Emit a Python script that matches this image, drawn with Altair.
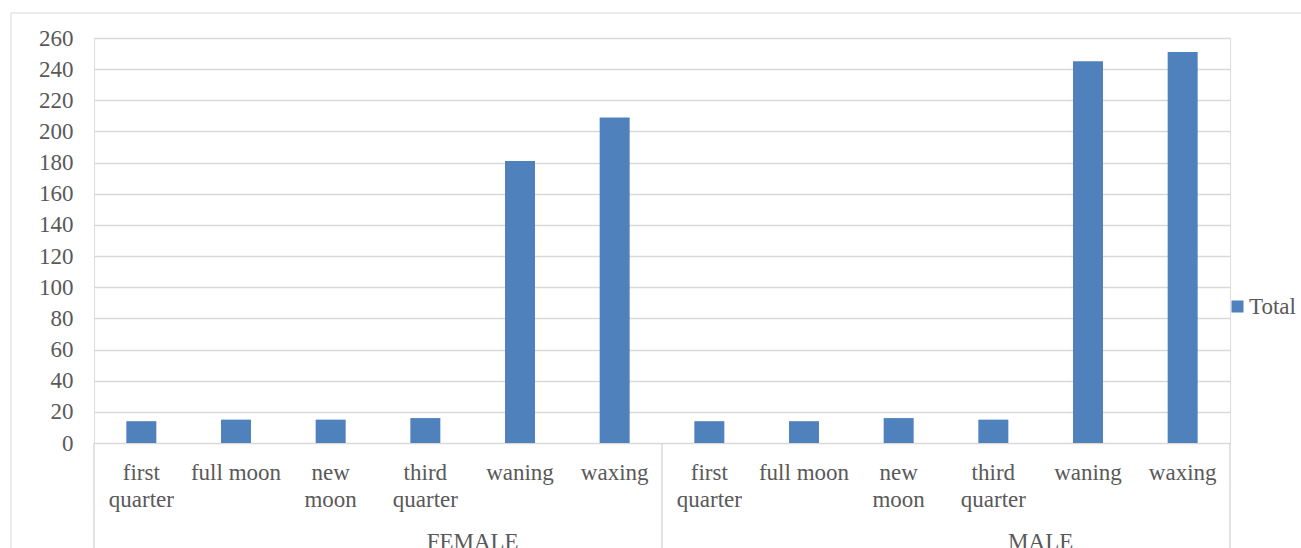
import altair as alt
import pandas as pd

sexes = ["FEMALE", "MALE"]
phases = ["first quarter", "full moon", "new moon", "third quarter", "waning", "waxing"]
phase_labels = ["first\nquarter", "full moon", "new\nmoon", "third\nquarter", "waning", "waxing"]
female = [14, 15, 15, 16, 181, 209]
male = [14, 14, 16, 15, 245, 251]
y_ticks = list(range(0, 261, 20))

FONT = "Liberation Serif"
TXT = "#595959"
GRID = "#d9d9d9"
BLUE = "#4f81bd"

W, H = 1136, 405

rows = []
for sex, vals in zip(sexes, [female, male]):
    for ph, lab, v in zip(phases, phase_labels, vals):
        rows.append({"key": f"{sex}|{ph}", "sex": sex, "phase": lab, "value": v, "series": "Total"})
df = pd.DataFrame(rows)
keys = list(df["key"])

xscale = alt.Scale(domain=keys, paddingInner=0, paddingOuter=0)

frame = alt.Chart(pd.DataFrame({"a": [0]})).mark_rect(
    fill="transparent", stroke=GRID, strokeWidth=1
).encode(
    x=alt.value(-83), x2=alt.value(W + 80), y=alt.value(-25), y2=alt.value(H + 120)
)

bars = alt.Chart(df).mark_bar(size=30, color=BLUE).encode(
    x=alt.X("key:N", sort=keys, scale=xscale,
            axis=alt.Axis(labels=False, ticks=False, domain=True, domainColor=GRID,
                          domainWidth=1.5, grid=False, title=None)),
    y=alt.Y("value:Q", scale=alt.Scale(domain=[0, 260], nice=False),
            axis=alt.Axis(values=y_ticks, title=None, domain=False, ticks=False, tickSize=0,
                          labelPadding=21, labelFont=FONT, labelFontSize=23,
                          labelColor=TXT, grid=True, gridColor=GRID, gridWidth=1.5)),
    color=alt.Color("series:N", scale=alt.Scale(range=[BLUE]),
                    legend=alt.Legend(title=None, orient="none", legendX=1132, legendY=257,
                                      symbolType="square", symbolSize=144, symbolStrokeWidth=0,
                                      labelFont=FONT, labelFontSize=23, labelColor=TXT,
                                      labelOffset=0, padding=0, labelLimit=0)),
)

phase_text = alt.Chart(df).mark_text(
    font=FONT, fontSize=23, color=TXT, lineBreak="\n", lineHeight=27,
    baseline="alphabetic", align="center"
).encode(
    x=alt.X("key:N", sort=keys, scale=xscale, axis=None),
    y=alt.value(H + 37),
    text="phase:N",
)

grp = df[df["key"].str.endswith("third quarter")]
group_text = alt.Chart(grp).mark_text(
    font=FONT, fontSize=23, color=TXT, baseline="alphabetic", align="center"
).encode(
    x=alt.X("key:N", sort=keys, scale=xscale, axis=None, bandPosition=1),
    y=alt.value(H + 106),
    text="sex:N",
)

starts = df[df["key"].str.endswith("first quarter")]
ends = df[df["key"] == keys[-1]]
rule_start = alt.Chart(starts).mark_rule(color=GRID, strokeWidth=1.5).encode(
    x=alt.X("key:N", sort=keys, scale=xscale, axis=None, bandPosition=0),
    y=alt.value(H), y2=alt.value(H + 120),
)
rule_end = alt.Chart(ends).mark_rule(color=GRID, strokeWidth=1.5).encode(
    x=alt.X("key:N", sort=keys, scale=xscale, axis=None, bandPosition=1),
    y=alt.value(H), y2=alt.value(H + 120),
)

chart = alt.layer(frame, bars, phase_text, group_text, rule_start, rule_end).properties(
    width=W, height=H,
    autosize=alt.AutoSizeParams(type="none"),
    padding={"left": 94, "top": 38, "right": 71, "bottom": 105},
).configure_view(stroke=None).configure(background="white")

chart.save("out.html", embed_options={"renderer": "svg", "actions": False})
